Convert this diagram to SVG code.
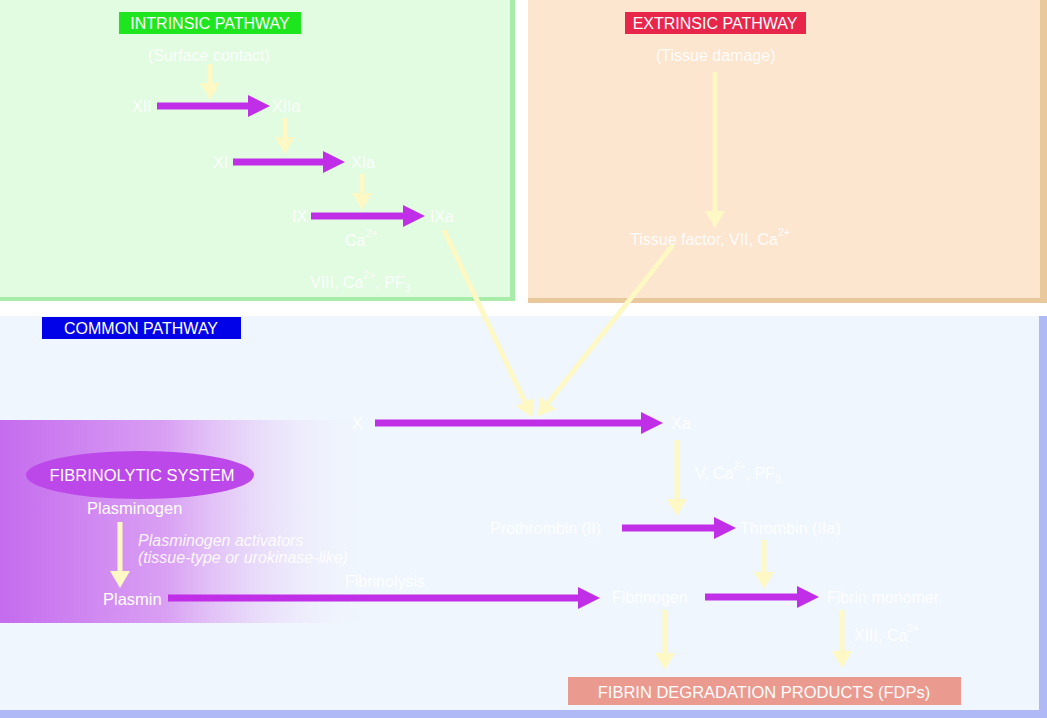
<svg xmlns="http://www.w3.org/2000/svg" width="1047" height="718" viewBox="0 0 1047 718">
  <style>
    text { font-family: "Liberation Sans", Arial, sans-serif; fill: #ffffff; }
    .lbl { font-size: 16.5px; }
    .tag { font-size: 16px; text-anchor: middle; }
    .sm { font-size: 16px; fill-opacity: 0.92; }
    .sup { font-size: 10.5px; }
    .purple { stroke: #c02ee8; stroke-width: 7; fill: none; marker-end: url(#headP); }
    .yellow { stroke: #fdf8c4; stroke-width: 5; fill: none; marker-end: url(#headY); }
  </style>
  <defs>
    <marker id="headP" markerUnits="userSpaceOnUse" orient="auto" refX="0" refY="0" markerWidth="24" markerHeight="26" viewBox="0 -13 24 26" overflow="visible">
      <path d="M0,-11 L22,0 L0,11 z" fill="#c02ee8"/>
    </marker>
    <marker id="headY" markerUnits="userSpaceOnUse" orient="auto" refX="0" refY="0" markerWidth="20" markerHeight="24" viewBox="0 -12 20 24" overflow="visible">
      <path d="M0,-10 L17,0 L0,10 z" fill="#fdf8c4"/>
    </marker>
    <linearGradient id="fibGrad" x1="0" y1="0" x2="1" y2="0">
      <stop offset="0" stop-color="#c56bee"/>
      <stop offset="0.45" stop-color="#d9a0f3"/>
      <stop offset="1" stop-color="#f0f6fd" stop-opacity="0"/>
    </linearGradient>
  </defs>

  <rect width="1047" height="718" fill="#ffffff"/>

  <!-- panels -->
  <g id="intrinsic-panel">
    <rect x="0" y="0" width="515" height="301" fill="#a9eca9"/>
    <rect x="0" y="0" width="510" height="297" fill="#e1fce1"/>
  </g>
  <g id="extrinsic-panel">
    <rect x="528" y="0" width="519" height="303" fill="#e9c89c"/>
    <rect x="528" y="0" width="512" height="298" fill="#fde6d0"/>
  </g>
  <g id="common-panel">
    <rect x="0" y="316" width="1047" height="402" fill="#aeb9f6"/>
    <rect x="0" y="316" width="1039" height="394" fill="#f0f6fd"/>
  </g>
  <g id="fibrinolytic-panel">
    <rect x="0" y="420" width="372" height="203" fill="url(#fibGrad)"/>
  </g>

  <!-- section tags -->
  <g id="tag-intrinsic">
    <rect x="119" y="12" width="182" height="22" fill="#1ee61e"/>
    <text class="tag" x="210" y="29">INTRINSIC PATHWAY</text>
  </g>
  <g id="tag-extrinsic">
    <rect x="625" y="12" width="181" height="22" fill="#e8264c"/>
    <text class="tag" x="715" y="29">EXTRINSIC PATHWAY</text>
  </g>
  <g id="tag-common">
    <rect x="42" y="317" width="199" height="22" fill="#0202e8"/>
    <text class="tag" x="141" y="334">COMMON PATHWAY</text>
  </g>

  <!-- connectors -->
  <g id="connectors">
    <!-- intrinsic cascade -->
    <line class="yellow" x1="210" y1="64" x2="210" y2="83"/>
    <line class="purple" x1="157" y1="106" x2="248" y2="106"/>
    <line class="yellow" x1="285" y1="118" x2="285" y2="137"/>
    <line class="purple" x1="233" y1="162" x2="323" y2="162"/>
    <line class="yellow" x1="362" y1="174" x2="362" y2="193"/>
    <line class="purple" x1="311" y1="216" x2="403" y2="216"/>
    <!-- extrinsic -->
    <line class="yellow" x1="715" y1="72" x2="715" y2="211"/>
    <!-- into factor X activation -->
    <line class="yellow" x1="444" y1="230" x2="525" y2="402"/>
    <line class="yellow" x1="673" y1="245" x2="548" y2="403"/>
    <!-- common pathway -->
    <line class="purple" x1="375" y1="423" x2="641" y2="423"/>
    <line class="yellow" x1="677" y1="440" x2="677" y2="499"/>
    <line class="purple" x1="622" y1="528" x2="714" y2="528"/>
    <line class="yellow" x1="764" y1="540" x2="764" y2="572"/>
    <line class="purple" x1="168" y1="598" x2="578" y2="598"/>
    <line class="purple" x1="705" y1="597" x2="797" y2="597"/>
    <line class="yellow" x1="665" y1="610" x2="665" y2="653"/>
    <line class="yellow" x1="842" y1="610" x2="842" y2="651"/>
    <!-- fibrinolysis -->
    <line class="yellow" x1="120" y1="522" x2="120" y2="571"/>
  </g>

  <!-- intrinsic nodes -->
  <g id="surface-contact"><text class="sm" x="148" y="61">(Surface contact)</text></g>
  <g id="xii"><text class="sm" x="132" y="112">XII</text></g>
  <g id="xiia"><text class="sm" x="272" y="112">XIIa</text></g>
  <g id="xi"><text class="sm" x="213" y="168">XI</text></g>
  <g id="xia"><text class="sm" x="351" y="168">XIa</text></g>
  <g id="ix"><text class="sm" x="292" y="222">IX</text></g>
  <g id="ixa"><text class="sm" x="430" y="222">IXa</text></g>
  <g id="ca-ix"><text class="sm" x="345" y="246">Ca<tspan class="sup" dy="-9">2+</tspan></text></g>
  <g id="viii-cofactors"><text class="sm" x="310" y="288">VIII, Ca<tspan class="sup" dy="-9">2+</tspan><tspan dy="9">, PF</tspan><tspan class="sup" dy="4">3</tspan></text></g>

  <!-- extrinsic nodes -->
  <g id="tissue-damage"><text class="sm" x="656" y="61">(Tissue damage)</text></g>
  <g id="tissue-factor"><text class="sm" x="630" y="245">Tissue factor, VII, Ca<tspan class="sup" dy="-9">2+</tspan></text></g>

  <!-- common pathway nodes -->
  <g id="x"><text class="sm" x="352" y="429">X</text></g>
  <g id="xa"><text class="sm" x="671" y="429">Xa</text></g>
  <g id="v-cofactors"><text class="sm" x="695" y="479">V, Ca<tspan class="sup" dy="-9">2+</tspan><tspan dy="9">, PF</tspan><tspan class="sup" dy="4">3</tspan></text></g>
  <g id="prothrombin"><text class="sm" x="490" y="534">Prothrombin (II)</text></g>
  <g id="thrombin"><text class="sm" x="740" y="534">Thrombin (IIa)</text></g>
  <g id="fibrinogen"><text class="sm" x="612" y="603">Fibrinogen</text></g>
  <g id="fibrin-monomer"><text class="sm" x="827" y="603">Fibrin monomer</text></g>
  <g id="xiii"><text class="sm" x="854" y="641">XIII, Ca<tspan class="sup" dy="-9">2+</tspan></text></g>

  <!-- fibrinolytic system -->
  <g id="fibrinolytic-system">
    <ellipse cx="140" cy="475" rx="114" ry="24" fill="#bd48ea"/>
    <text class="lbl" x="142" y="481" text-anchor="middle">FIBRINOLYTIC SYSTEM</text>
  </g>
  <g id="plasminogen"><text class="lbl" x="87" y="514">Plasminogen</text></g>
  <g id="activators">
    <text class="sm" x="138" y="546" font-style="italic">Plasminogen activators</text>
    <text class="sm" x="138" y="563" font-style="italic">(tissue-type or urokinase-like)</text>
  </g>
  <g id="plasmin"><text class="lbl" x="103" y="605">Plasmin</text></g>
  <g id="fibrinolysis"><text class="sm" x="345" y="587">Fibrinolysis</text></g>

  <!-- end product -->
  <g id="fdp">
    <rect x="568" y="677" width="393" height="28" fill="#eb9a8f"/>
    <text x="764" y="698" font-size="16.5" text-anchor="middle">FIBRIN DEGRADATION PRODUCTS (FDPs)</text>
  </g>
</svg>
